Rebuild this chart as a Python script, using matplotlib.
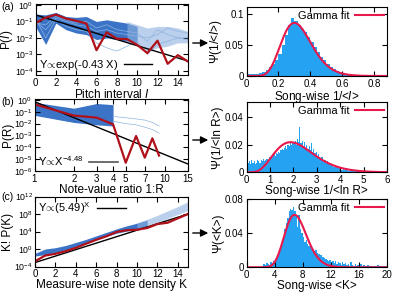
import math
import numpy as np
import matplotlib
matplotlib.use("Agg")
import matplotlib.pyplot as plt
from matplotlib.ticker import FixedLocator, NullLocator, LogLocator

plt.rcParams['font.family'] = ['Liberation Sans', 'DejaVu Sans']
plt.rcParams['mathtext.fontset'] = 'custom'
plt.rcParams['mathtext.rm'] = 'Liberation Sans'
plt.rcParams['mathtext.it'] = 'Liberation Sans:italic'
plt.rcParams['mathtext.sf'] = 'Liberation Sans'
plt.rcParams['xtick.direction'] = 'in'
plt.rcParams['ytick.direction'] = 'in'
plt.rcParams['xtick.top'] = True
plt.rcParams['ytick.right'] = True
plt.rcParams['xtick.labelsize'] = 7
plt.rcParams['ytick.labelsize'] = 7
plt.rcParams['xtick.major.pad'] = 2
plt.rcParams['ytick.major.pad'] = 2
plt.rcParams['axes.labelsize'] = 8.5
plt.rcParams['axes.linewidth'] = 0.8

# ---------------- data ----------------
# (a) pitch interval
pitch_x = np.arange(0, 16)
pitch_avg = [0.08, 0.17, 0.26, 0.15, 0.11, 0.075, 0.0018, 0.022, 0.009, 0.0085,
             0.0038, 0.0012, 0.0068, 0.00027, 0.0009, 0.00037]
pitch_band_x = np.arange(0, 11)
pitch_band_hi = [-0.55, -0.6, -0.45, -0.7, -0.75, -0.7, -1.0, -0.9, -1.0, -1.1, -1.3]
pitch_band_lo = [-1.3, -2.4, -1.1, -1.5, -1.7, -1.8, -2.1, -2.0, -2.1, -2.2, -2.3]
pitch_tail_x = np.arange(9, 16)
pitch_tail_hi = [-1.0, -1.2, -1.4, -1.3, -1.3, -1.4, -1.6]
pitch_tail_lo = [-2.3, -2.4, -2.8, -2.6, -2.5, -2.3, -2.3]
pitch_song1 = [-1.0, -1.5, -0.8, -1.0, -1.2, -1.3, -1.6, -1.5, -1.7, -1.8, -1.9, -2.0, -1.8, -1.4, -1.6, -1.7]
pitch_song2 = [-0.8, -2.0, -0.9, -1.3, -1.5, -1.6, -2.3, -2.6, -2.8, -2.5, -2.2, -3.0, -2.4, -2.2, -2.0, -2.1]
pitch_song3 = [-1.1, -1.2, -0.7, -0.9, -1.1, -1.0, -1.4, -1.2, -1.5, -1.6, -1.7, -2.2, -1.5, -1.8, -2.0, -2.0]
pitch_rate = 0.43
pitch_amp = 0.25

# (b) note-value ratio
ratio_x = [1, 2, 3, 4, 5, 6, 7, 8, 9]
ratio_avg = [0.43, 0.048, 0.032, 0.0087, 5e-6, 9e-4, 1.35e-5, 5.7e-4, 2e-5]
ratio_band_x = [1, 2, 3, 4]
ratio_band_hi = [-0.2, -0.7, -0.3, -0.4]
ratio_band_lo = [-1.3, -1.9, -2.1, -2.2]
ratio_song_x = [4, 5, 6, 7, 8, 9]
ratio_song1 = [-1.4, -1.5, -1.6, -1.7, -1.9, -2.2]
ratio_song2 = [-1.8, -2.0, -2.1, -2.3, -2.5, -2.8]
ratio_exp = -4.48
ratio_amp = 0.72

# (c) note density
dens_x = np.arange(0, 16)
dens_avg = [-2.8, -1.5, -1.1, -0.5, 0.26, 1.2, 2.1, 2.9, 3.9, 4.3, 4.4, 4.8, 5.7, 6.0, 7.0, 8.0]
dens_band_x = np.arange(0, 12)
dens_band_hi = [-1.0, 0.0, 0.3, 0.8, 1.5, 2.2, 3.0, 3.8, 4.6, 5.3, 5.9, 6.6]
dens_band_lo = [-1.6, -1.3, -0.8, -0.2, 0.5, 1.3, 2.1, 2.9, 3.6, 4.1, 4.6, 5.2]
dens_tail_x = np.arange(10, 16)
dens_tail_hi = [6.0, 6.8, 7.7, 8.7, 9.7, 10.8]
dens_tail_lo = [4.8, 5.4, 6.1, 7.0, 7.9, 8.8]
dens_base = 5.49
dens_logc = -3.1

# histograms (right)
inv_i_edges = np.arange(0, 0.88, 0.02)
inv_i_hist = [0.003, 0.003, 0.004, 0.004, 0.005, 0.007, 0.010, 0.014, 0.019, 0.026,
              0.036, 0.050, 0.066, 0.082, 0.093, 0.088, 0.082, 0.076, 0.070, 0.062,
              0.055, 0.046, 0.038, 0.031, 0.025, 0.020, 0.015, 0.011, 0.008, 0.005,
              0.004, 0.003, 0.002, 0.0015, 0.001, 0.0008, 0.0006, 0.0005, 0.0004, 0.0003,
              0.0003, 0.0002, 0.0002, 0.0001]
inv_i_fit = (11, 0.03, 0.0204)  # shape, scale, bin width

inv_r_edges = np.arange(0, 6, 0.05)
inv_r_hist = [0.011, 0.007, 0.008, 0.006, 0.009, 0.007, 0.008, 0.006, 0.007, 0.009,
              0.008, 0.007, 0.009, 0.008, 0.010, 0.008, 0.009, 0.010, 0.009, 0.011,
              0.010, 0.012, 0.011, 0.013, 0.012, 0.014, 0.013, 0.015, 0.014, 0.016,
              0.017, 0.016, 0.018, 0.019, 0.017, 0.020, 0.019, 0.021, 0.020, 0.022,
              0.021, 0.023, 0.020, 0.024, 0.022, 0.033, 0.021, 0.023, 0.019, 0.022,
              0.018, 0.020, 0.017, 0.019, 0.016, 0.021, 0.015, 0.017, 0.014, 0.015,
              0.012, 0.013, 0.011, 0.010, 0.011, 0.009, 0.008, 0.009, 0.007, 0.008,
              0.006, 0.006, 0.005, 0.006, 0.004, 0.005, 0.004, 0.003, 0.004, 0.003,
              0.003, 0.002, 0.003, 0.002, 0.002, 0.0015, 0.002, 0.001, 0.0015, 0.001,
              0.001, 0.001, 0.0008, 0.001, 0.0006, 0.0008, 0.0006, 0.0005, 0.0006, 0.0005,
              0.004, 0.0005, 0.0004, 0.0003, 0.0004, 0.0003, 0.0002, 0.0003, 0.0002, 0.0002,
              0.0001, 0.0002, 0.0001, 0.0001, 0.0001, 0.0001, 0.0, 0.0001, 0.0, 0.0]
inv_r_fit = (6, 0.376, 0.047)

mean_k_edges = np.arange(0, 20, 0.2)
mean_k_hist = [0] * 11 + \
    [0.002, 0.004, 0.003, 0.005, 0.004, 0.003, 0.006, 0.005, 0.007] + \
    [0.010, 0.012, 0.015, 0.019, 0.024, 0.030, 0.036, 0.045, 0.052, 0.058] + \
    [0.066, 0.069, 0.068, 0.071, 0.066, 0.060, 0.048, 0.062, 0.045, 0.040] + \
    [0.036, 0.030, 0.032, 0.027, 0.025, 0.026, 0.022, 0.021, 0.019, 0.020] + \
    [0.017, 0.016, 0.014, 0.015, 0.012, 0.011, 0.010, 0.009, 0.008, 0.009] + \
    [0.006, 0.007, 0.005, 0.008, 0.004, 0.006, 0.005, 0.003, 0.006, 0.004] + \
    [0.005, 0.003, 0.004, 0.002, 0.006, 0.003, 0.002, 0.004, 0.002, 0.003] + \
    [0.002, 0.004, 0.001, 0.003, 0.002, 0.001, 0.003, 0.002, 0.001, 0.002] + \
    [0.001, 0.002, 0.001, 0.003, 0.001, 0.001, 0.002, 0.001, 0.001, 0.002]
mean_k_fit = (20, 0.36, 0.244)

# ---------------- style ----------------
band_col = '#3b74c6'
faint_col = '#8fb2e0'
red_col = '#b0101a'
hist_col = '#25a3f2'
fit_col = '#e8184c'


def gamma_curve(x, k, theta, width):
    x = np.asarray(x, dtype=float)
    y = np.zeros_like(x)
    m = x > 0
    y[m] = np.exp((k - 1) * np.log(x[m]) - x[m] / theta - math.lgamma(k) - k * math.log(theta))
    return y * width


W, H = 395, 292
fig = plt.figure(figsize=(W / 100, H / 100), dpi=100)


def box(l, t, r, b):
    return [l / W, 1 - b / H, (r - l) / W, (b - t) / H]


axA = fig.add_axes(box(35.5, 4, 188, 75))
axB = fig.add_axes(box(34.5, 99, 188, 171))
axC = fig.add_axes(box(35, 196.5, 188, 266.5))
hA = fig.add_axes(box(246.5, 7.3, 387, 76))
hB = fig.add_axes(box(246.5, 102.3, 387, 172.3))
hC = fig.add_axes(box(246.5, 199.3, 387, 267.3))

leg_kw = dict(frameon=False, markerfirst=False, fontsize=8, handlelength=2.6,
              borderaxespad=0.1, borderpad=0.2, handletextpad=0.5)
prop = r'$\!\propto\!$'

# ---- (a) left ----
axA.fill_between(pitch_band_x, 10.0 ** np.array(pitch_band_lo), 10.0 ** np.array(pitch_band_hi),
                 color=band_col, lw=0)
axA.fill_between(pitch_tail_x, 10.0 ** np.array(pitch_tail_lo), 10.0 ** np.array(pitch_tail_hi),
                 color=faint_col, alpha=0.6, lw=0)
for s in [pitch_song1, pitch_song2, pitch_song3]:
    axA.plot(pitch_x, 10.0 ** np.array(s), color=faint_col, lw=0.5)
xx = np.linspace(0, 15, 50)
axA.plot(xx, pitch_amp * np.exp(-pitch_rate * xx), color='black', lw=1.0)
axA.plot(pitch_x, pitch_avg, color=red_col, lw=1.6)
axA.set_yscale('log')
axA.set_xlim(0, 15)
axA.set_ylim(10 ** -4.25, 10 ** 0.06)
axA.xaxis.set_major_locator(FixedLocator(range(0, 16, 2)))
axA.yaxis.set_major_locator(LogLocator(base=10, numticks=10))
axA.yaxis.set_minor_locator(NullLocator())
axA.set_xlabel('Pitch interval $I$', labelpad=0)
axA.set_ylabel('P($I$)')
axA.plot([], [], color='black', lw=1.0, label='Y' + prop + 'exp(-0.43 X)')
axA.legend(loc='lower left', **leg_kw)

# ---- (b) left ----
axB.fill_between(ratio_band_x, 10.0 ** np.array(ratio_band_lo), 10.0 ** np.array(ratio_band_hi),
                 color=band_col, lw=0)
for s in [ratio_song1, ratio_song2]:
    axB.plot(ratio_song_x, 10.0 ** np.array(s), color=faint_col, lw=0.5)
xr = np.linspace(1, 15, 50)
axB.plot(xr, ratio_amp * xr ** ratio_exp, color='black', lw=1.0)
axB.plot(ratio_x, ratio_avg, color=red_col, lw=1.6)
axB.set_xscale('log')
axB.set_yscale('log')
axB.set_xlim(1, 15)
axB.set_ylim(1e-6, 10 ** 0.08)
axB.xaxis.set_major_locator(FixedLocator([1, 2, 3, 4, 5, 7, 10, 15]))
axB.xaxis.set_minor_locator(NullLocator())
axB.xaxis.set_major_formatter(plt.FuncFormatter(lambda v, p: '%d' % v))
axB.yaxis.set_major_locator(LogLocator(base=10, numticks=10))
axB.yaxis.set_minor_locator(NullLocator())
axB.set_xlabel('Note-value ratio 1:R', labelpad=0)
axB.set_ylabel('P(R)')
axB.plot([], [], color='#555555', lw=1.2, label='Y' + prop + 'X$^{-4.48}$')
axB.legend(loc='lower left', **leg_kw)

# ---- (c) left ----
axC.fill_between(dens_band_x, 10.0 ** np.array(dens_band_lo), 10.0 ** np.array(dens_band_hi),
                 color=band_col, lw=0)
axC.fill_between(dens_tail_x, 10.0 ** np.array(dens_tail_lo), 10.0 ** np.array(dens_tail_hi),
                 color=faint_col, alpha=0.6, lw=0)
xc = np.linspace(0, 15, 50)
axC.plot(xc, 10 ** dens_logc * dens_base ** xc, color='black', lw=1.0)
axC.plot(dens_x, 10.0 ** np.array(dens_avg), color=red_col, lw=1.6)
axC.set_yscale('log')
axC.set_xlim(0, 15)
axC.set_ylim(1e-4, 1e12)
axC.xaxis.set_major_locator(FixedLocator(range(0, 16, 2)))
axC.yaxis.set_major_locator(FixedLocator([1e-4, 1e0, 1e4, 1e8, 1e12]))
axC.yaxis.set_minor_locator(NullLocator())
axC.set_xlabel('Measure-wise note density K', labelpad=0)
axC.set_ylabel('K! P(K)')
axC.plot([], [], color='black', lw=1.0, label='Y' + prop + r'(5.49)$^{\mathrm{X}}$')
axC.legend(loc='upper left', **leg_kw)

for ax in [axA, axB, axC]:
    ax.yaxis.set_label_coords(-0.135, 0.5)
    ax.tick_params(axis='y', labelsize=6.3, pad=1.5)


# ---- right histograms ----
def hist_panel(ax, edges, vals, fit, xmax, ymax, yticks, xticks, xlabel, ylabel):
    w = edges[1] - edges[0]
    ax.bar(edges, vals, width=w, align='edge', color=hist_col, lw=0)
    xf = np.linspace(0, xmax, 300)
    ax.plot(xf, gamma_curve(xf, *fit), color=fit_col, lw=1.5, label='Gamma fit')
    ax.set_xlim(0, xmax)
    ax.set_ylim(0, ymax)
    ax.set_yticks(yticks)
    ax.set_xticks(xticks)
    ax.set_xlabel(xlabel, labelpad=0)
    ax.set_ylabel(ylabel)
    ax.yaxis.set_label_coords(-0.16, 0.5)
    ax.legend(loc='upper right', **leg_kw)


hist_panel(hA, inv_i_edges, inv_i_hist, inv_i_fit, 0.88, 0.11, [0, 0.05, 0.1],
           [0, 0.2, 0.4, 0.6, 0.8], 'Song-wise 1/<$I$>', '\u03a8(1/<$I$>)')
hA.set_yticklabels(['0', '0.05', '0.1'])
hA.set_xticklabels(['0', '0.2', '0.4', '0.6', '0.8'])
hist_panel(hB, inv_r_edges, inv_r_hist, inv_r_fit, 6, 0.051, [0, 0.02, 0.04],
           range(0, 7), 'Song-wise 1/<ln R>', '\u03a8(1/<ln R>)')
hB.set_yticklabels(['0', '0.02', '0.04'])
hist_panel(hC, mean_k_edges, mean_k_hist, mean_k_fit, 20, 0.08, [0, 0.04, 0.08],
           range(0, 21, 4), 'Song-wise <K>', '\u03a8(<K>)')
hC.set_yticklabels(['0', '0.04', '0.08'])

# arrows and panel letters
for y in [43, 140, 233]:
    fig.add_artist(matplotlib.patches.FancyArrowPatch(
        (190 / W, 1 - y / H), (211 / W, 1 - y / H), transform=fig.transFigure,
        arrowstyle='-|>', mutation_scale=11, color='black', lw=1.0))
for lab, y in [('(a)', 7), ('(b)', 102), ('(c)', 197)]:
    fig.text(1 / W, 1 - y / H, lab, fontsize=7.5, va='center', ha='left')

fig.savefig('out.png', dpi=100)
